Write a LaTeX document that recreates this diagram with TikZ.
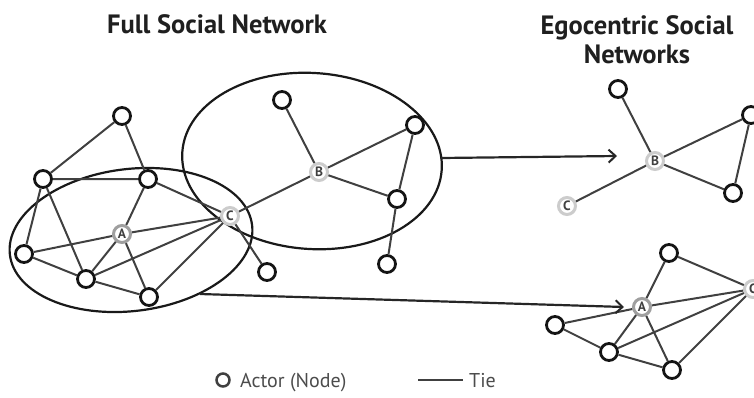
\documentclass[tikz,border=0pt]{standalone}
\usepackage{fontspec}
\setmainfont{PT Sans}
\usetikzlibrary{arrows.meta}
\begin{document}
\begin{tikzpicture}[x=1pt,y=-1pt,
  actor/.style={circle,draw=black!92,line width=2.8pt,fill=white,minimum size=17pt,inner sep=0pt},
  egonode/.style={circle,draw=gray!40,line width=3pt,fill=white,minimum size=17pt,inner sep=0pt,
    font=\fontsize{13.5}{13.5}\selectfont\bfseries,text=black!75},
  egodark/.style={egonode,draw=gray!75},
  tie/.style={draw=black!75,line width=2pt},
  grp/.style={draw=black!90,line width=2.2pt},
  flow/.style={draw=black!85,line width=2.2pt,-{Straight Barb[length=7pt,width=13pt,line width=2pt]}},
  title/.style={font=\fontsize{26.5}{29}\selectfont\bfseries,text=black!88},
  legend/.style={font=\fontsize{20}{20}\selectfont,text=black!70}
]
\useasboundingbox (0,0) rectangle (754,397);

% groups
\draw[grp,rotate around={7:(131,240)}] (131,240) ellipse [x radius=122, y radius=71];
\draw[grp,rotate around={-4:(312,161)}] (312,161) ellipse [x radius=130, y radius=88];

% full network nodes
\node[actor] (n1) at (122,116) {};
\node[actor] (n2) at (43,179) {};
\node[actor] (n3) at (148,179) {};
\node[egodark] (A) at (122,234) {A};
\node[actor] (n4) at (24,254) {};
\node[actor] (n5) at (86,279) {};
\node[actor] (n6) at (149,297) {};
\node[egonode] (C) at (230,216) {C};
\node[actor] (n7) at (267,272) {};
\node[egonode] (B) at (319,172) {B};
\node[actor] (n8) at (282,100) {};
\node[actor] (n9) at (415,125) {};
\node[actor] (n10) at (397,199) {};
\node[actor] (n11) at (387,264) {};

\draw[tie] (n1) -- (n2) (n1) -- (n3) (n2) -- (n3) (n2) -- (n4) (n2) -- (n5)
  (n3) -- (A) (n3) -- (C) (A) -- (n4) (A) -- (C) (A) -- (n5) (A) -- (n6)
  (n4) -- (n5) (n5) -- (n6) (n5) -- (C) (n6) -- (C) (C) -- (n7) (C) -- (B)
  (B) -- (n8) (B) -- (n9) (B) -- (n10) (n9) -- (n10) (n10) -- (n11);

% ego B
\node[egonode] (eB) at (655,161) {B};
\node[actor] (eb1) at (618,89) {};
\node[actor] (eb2) at (751,115) {};
\node[actor] (eb3) at (733,193) {};
\node[egonode] (eC) at (567,206) {C};
\draw[tie] (eB) -- (eb1) (eB) -- (eb2) (eB) -- (eb3) (eb2) -- (eb3) (eB) -- (eC);

% ego A
\node[egodark] (eA) at (642,307) {A};
\node[actor] (ea1) at (669,253) {};
\node[egonode] (eC2) at (753,289) {C};
\node[actor] (ea2) at (555,325) {};
\node[actor] (ea3) at (609,352) {};
\node[actor] (ea4) at (672,370) {};
\draw[tie] (ea1) -- (eA) (ea1) -- (eC2) (eA) -- (eC2) (ea2) -- (eA) (ea2) -- (ea3)
  (ea3) -- (eA) (ea3) -- (eC2) (ea3) -- (ea4) (eA) -- (ea4) (ea4) -- (eC2);

% arrows
\coordinate (p1) at (441,158);
\coordinate (q1) at (617,156);
\coordinate (p2) at (200,294);
\coordinate (q2) at (624,307);
\draw[flow] (p1) -- (q1);
\draw[flow] (p2) -- (q2);

% titles
\node[title,anchor=base] (t1) at (217,33) {Full Social Network};
\node[title,align=center] (t2) at (637,40) {Egocentric Social\\Networks};

% legend
\node[circle,draw=black!75,line width=2.5pt,minimum size=13pt,inner sep=0pt] (lg) at (223,380) {};
\node[legend,anchor=base west,inner sep=0pt] (lt) at (240,387) {Actor (Node)};
\coordinate (l1) at (418,380);
\coordinate (l2) at (463,380);
\draw[tie] (l1) -- (l2);
\node[legend,anchor=base west,inner sep=0pt] (lt2) at (469,387) {Tie};
\end{tikzpicture}
\end{document}
